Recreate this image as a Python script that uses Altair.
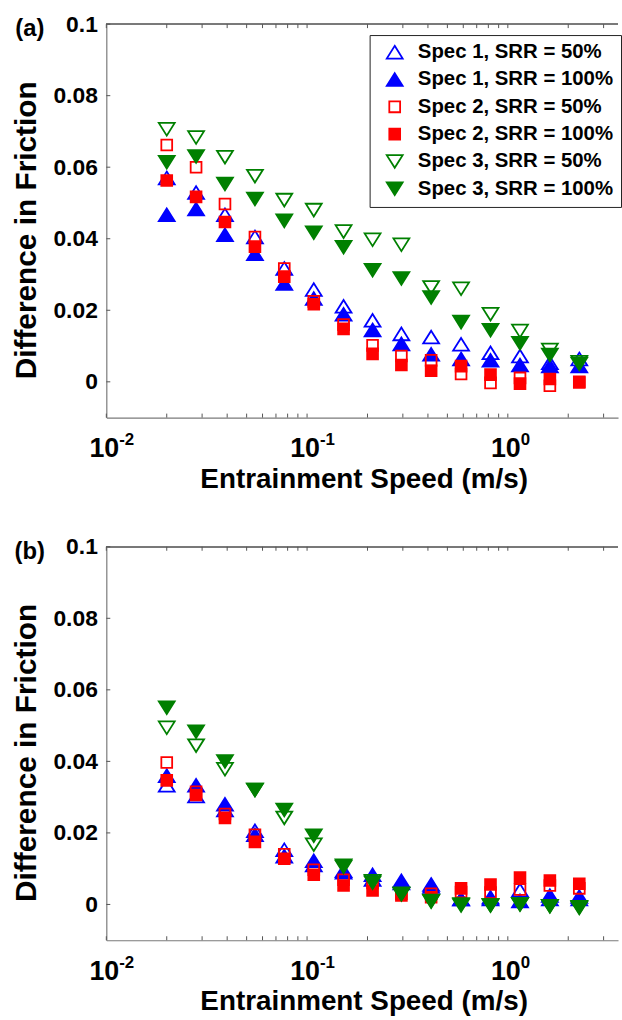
import altair as alt
import pandas as pd

FONT = "Liberation Sans"
AXIS_GREY = "#7a7a7a"
TICK_GREY = "#555555"
BLUE, RED, GREEN = "#0000ff", "#ff0000", "#008000"

# Entrainment speeds (m/s), shared by every series
speed = [0.02, 0.028, 0.039, 0.055, 0.077, 0.108, 0.152, 0.212,
         0.295, 0.415, 0.585, 0.82, 1.15, 1.62, 2.27]

series_names = [
    "Spec 1, SRR = 50%", "Spec 1, SRR = 100%",
    "Spec 2, SRR = 50%", "Spec 2, SRR = 100%",
    "Spec 3, SRR = 50%", "Spec 3, SRR = 100%",
]

# Panel (a): difference in friction
a_spec1_50 = [0.0570, 0.0529, 0.0467, 0.0405, 0.0317, 0.0258, 0.0211, 0.0172,
              0.0134, 0.0125, 0.0105, 0.0081, 0.0072, 0.0053, 0.0064]
a_spec1_100 = [0.0467, 0.0483, 0.0411, 0.0358, 0.0275, 0.0233, 0.0189, 0.0145,
               0.0106, 0.0077, 0.0064, 0.0060, 0.0047, 0.0044, 0.0044]
a_spec2_50 = [0.0662, 0.0600, 0.0497, 0.0405, 0.0317, 0.0225, 0.0160, 0.0102,
              0.0072, 0.0060, 0.0022, -0.0003, 0.0011, -0.0011, -0.0002]
a_spec2_100 = [0.0563, 0.0517, 0.0447, 0.0378, 0.0294, 0.0217, 0.0148, 0.0078,
               0.0047, 0.0031, 0.0044, 0.0020, -0.0005, 0.0008, 0.0000]
a_spec3_50 = [0.0706, 0.0683, 0.0628, 0.0575, 0.0508, 0.0480, 0.0420, 0.0397,
              0.0383, 0.0264, 0.0260, 0.0189, 0.0142, 0.0089, 0.0055]
a_spec3_100 = [0.0614, 0.0630, 0.0553, 0.0511, 0.0450, 0.0417, 0.0376, 0.0312,
               0.0289, 0.0236, 0.0167, 0.0144, 0.0108, 0.0075, 0.0050]

# Panel (b): difference in friction
b_spec1_50 = [0.0333, 0.0303, 0.0264, 0.0206, 0.0153, 0.0110, 0.0090, 0.0070,
              0.0060, 0.0050, 0.0015, 0.0015, 0.0040, 0.0015, 0.0015]
b_spec1_100 = [0.0360, 0.0333, 0.0280, 0.0195, 0.0135, 0.0122, 0.0094, 0.0083,
               0.0066, 0.0056, 0.0015, 0.0020, 0.0010, 0.0025, 0.0022]
b_spec2_50 = [0.0397, 0.0315, 0.0253, 0.0195, 0.0140, 0.0097, 0.0069, 0.0060,
              0.0030, 0.0030, 0.0035, 0.0033, 0.0042, 0.0053, 0.0045]
b_spec2_100 = [0.0347, 0.0306, 0.0242, 0.0175, 0.0128, 0.0083, 0.0053, 0.0039,
               0.0025, 0.0020, 0.0045, 0.0056, 0.0075, 0.0067, 0.0058]
b_spec3_50 = [0.0494, 0.0444, 0.0378, 0.0320, 0.0242, 0.0167, 0.0105, 0.0065,
              0.0030, 0.0010, 0.0000, -0.0003, 0.0000, -0.0005, -0.0010]
b_spec3_100 = [0.0550, 0.0483, 0.0400, 0.0320, 0.0264, 0.0192, 0.0108, 0.0061,
               0.0028, 0.0008, -0.0003, -0.0003, 0.0000, -0.0005, -0.0008]

panels = {
    "a": [a_spec1_50, a_spec1_100, a_spec2_50, a_spec2_100, a_spec3_50, a_spec3_100],
    "b": [b_spec1_50, b_spec1_100, b_spec2_50, b_spec2_100, b_spec3_50, b_spec3_100],
}

# Axis tick positions and labels
x_tick_values = [0.01, 0.02, 0.03, 0.04, 0.05, 0.06, 0.07, 0.08, 0.09,
                 0.1, 0.2, 0.3, 0.4, 0.5, 0.6, 0.7, 0.8, 0.9, 1.0, 2.0, 3.0]
x_major_values = [0.01, 0.1, 1.0]
x_major_base = ["10", "10", "10"]
x_major_exp = ["-2", "-1", "0"]
y_tick_values = [0, 0.02, 0.04, 0.06, 0.08, 0.1]

marker_colors = [BLUE, BLUE, RED, RED, GREEN, GREEN]
marker_fills = ["transparent", BLUE, "transparent", RED, "transparent", GREEN]
TRI_UP = "M0,-0.8L1,0.8L-1,0.8Z"
TRI_DOWN = "M-1,-0.8L1,-0.8L0,0.8Z"
SQUARE = "M-0.68,-0.68H0.68V0.68H-0.68Z"
marker_shapes = [TRI_UP, TRI_UP, SQUARE, SQUARE, TRI_DOWN, TRI_DOWN]

W, H = 515, 396

x_scale = alt.Scale(type="log", domain=[0.01, 3.54], nice=False)
y_scale = alt.Scale(domain=[-0.01, 0.1], nice=False, zero=False)

# Every layer uses identical axis definitions so the layered axes merge
x_axis = alt.Axis(
    values=[], labels=False, ticks=False, grid=False,
    domainColor=AXIS_GREY, domainWidth=1.2,
    title="Entrainment Speed (m/s)", titleFont=FONT, titleFontSize=28,
    titleFontWeight="bold", titleColor="black",
    titleX=259, titleY=62, titleAlign="center", titleBaseline="middle",
)
y_axis = alt.Axis(
    values=y_tick_values,
    labelExpr="datum.value == 0 ? '0' : format(datum.value, '~g')",
    ticks=False, tickSize=0, labelPadding=9, labelOverlap=False,
    labelFlush=False, labelFont=FONT, labelFontSize=23,
    labelFontWeight="bold", labelColor="black", grid=False,
    domainColor=AXIS_GREY, domainWidth=1.2,
    title="Difference in Friction", titleFont=FONT, titleFontSize=30,
    titleFontWeight="bold", titleColor="black", titleAngle=270,
    titleX=-80, titleY=207, titleAlign="center", titleBaseline="middle",
)

ticks_x_df = pd.DataFrame({"t": x_tick_values})
ticks_y_df = pd.DataFrame({"v": y_tick_values})
major_df = pd.DataFrame({"t": x_major_values, "base": x_major_base, "exp": x_major_exp})


def xq(field):
    return alt.X(field, type="quantitative", scale=x_scale, axis=x_axis)


def yq(field):
    return alt.Y(field, type="quantitative", scale=y_scale, axis=y_axis)


def panel_frame(tag, data, show_legend):
    rows = []
    for order, (name, values) in enumerate(zip(series_names, data)):
        for s, v in zip(speed, values):
            rows.append({"series": name, "speed": s, "diff": v, "k": order})
    df = pd.DataFrame(rows)

    if show_legend:
        legend = alt.Legend(
            orient="none", legendX=265, legendY=11, title=None,
            labelFont=FONT, labelFontSize=20.5, labelFontWeight="bold",
            labelColor="black", labelOffset=13, labelLimit=400,
            symbolSize=256, symbolStrokeWidth=1.8, symbolOffset=8,
            padding=7, rowPadding=6.5,
            strokeColor="#222222", fillColor="white",
        )
    else:
        legend = None

    points = alt.Chart(df).mark_point(
        size=256, strokeWidth=1.8, opacity=1, fillOpacity=1, strokeOpacity=1
    ).encode(
        x=xq("speed"),
        y=yq("diff"),
        stroke=alt.Stroke("series:N", scale=alt.Scale(domain=series_names, range=marker_colors), legend=legend),
        fill=alt.Fill("series:N", scale=alt.Scale(domain=series_names, range=marker_fills), legend=legend),
        shape=alt.Shape("series:N", scale=alt.Scale(domain=series_names, range=marker_shapes), legend=legend),
        order=alt.Order("k:Q"),
    )

    top_line = alt.Chart(ticks_x_df).mark_rule(color=AXIS_GREY, strokeWidth=1.2).encode(
        x=alt.value(0), x2=alt.value(W), y=alt.value(0)
    )
    bottom_ticks = alt.Chart(ticks_x_df).mark_rule(color=TICK_GREY, strokeWidth=1).encode(
        x=xq("t"), y=alt.value(H), y2=alt.value(H - 4)
    )
    top_ticks = alt.Chart(ticks_x_df).mark_rule(color=TICK_GREY, strokeWidth=1).encode(
        x=xq("t"), y=alt.value(0), y2=alt.value(4)
    )
    left_ticks = alt.Chart(ticks_y_df).mark_rule(color=TICK_GREY, strokeWidth=1).encode(
        y=yq("v"), x=alt.value(0), x2=alt.value(4)
    )
    base_labels = alt.Chart(major_df).mark_text(
        font=FONT, fontSize=27, fontWeight="bold", color="black",
        align="right", baseline="middle", dx=13,
    ).encode(x=xq("t"), y=alt.value(H + 32), text="base:N")
    exp_labels = alt.Chart(major_df).mark_text(
        font=FONT, fontSize=17, fontWeight="bold", color="black",
        align="left", baseline="middle", dx=13,
    ).encode(x=xq("t"), y=alt.value(H + 23), text="exp:N")
    panel_label = alt.Chart(major_df.head(1)).mark_text(
        font=FONT, fontSize=24, fontWeight="bold", color="black",
        align="center", baseline="middle",
    ).encode(x=alt.value(-77), y=alt.value(5), text=alt.value(f"({tag})"))

    return alt.layer(
        points, top_line, bottom_ticks, top_ticks, left_ticks,
        base_labels, exp_labels, panel_label,
    ).properties(width=W, height=H)


chart = alt.vconcat(
    panel_frame("a", panels["a"], True),
    panel_frame("b", panels["b"], False),
    spacing=43,
).resolve_scale(
    stroke="independent", fill="independent", shape="independent"
).resolve_legend(
    stroke="independent", fill="independent", shape="independent"
).properties(
    padding={"left": 12, "top": 10, "right": 0, "bottom": 0},
    background="white",
).configure_view(stroke=None)

chart.save("out.html", embed_options={"renderer": "svg", "actions": False})
